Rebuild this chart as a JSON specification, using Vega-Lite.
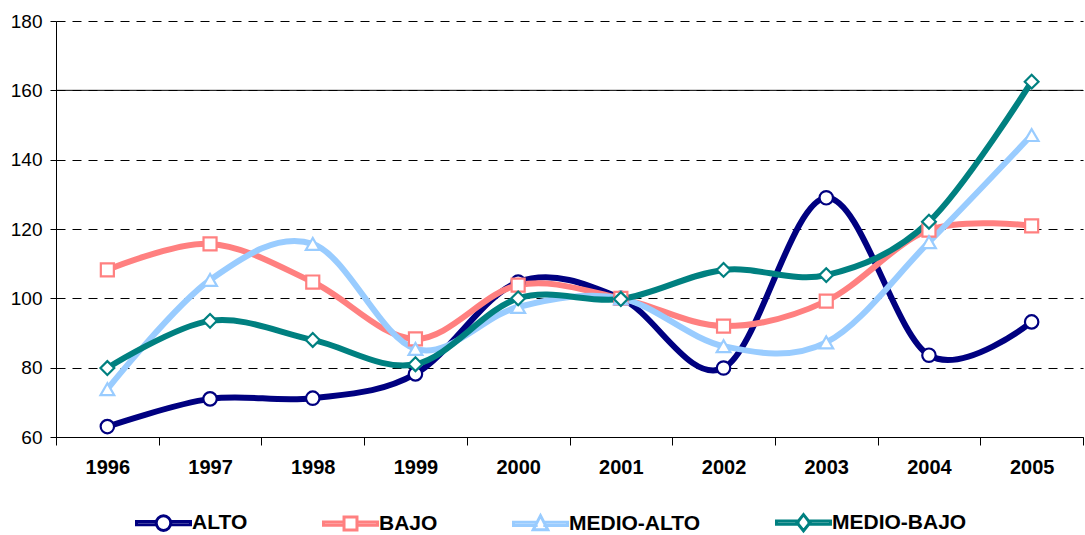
{
  "$schema": "https://vega.github.io/schema/vega-lite/v6.json",
  "width": 1027,
  "height": 416,
  "autosize": "none",
  "padding": {"left": 56, "top": 21, "right": 2, "bottom": 98},
  "background": "white",
  "config": {"view": {"stroke": null}, "font": "Liberation Sans"},
  "data": {"values": [
    {"year": "1996", "series": "ALTO", "value": 63},
    {"year": "1997", "series": "ALTO", "value": 71},
    {"year": "1998", "series": "ALTO", "value": 71.2},
    {"year": "1999", "series": "ALTO", "value": 78.2},
    {"year": "2000", "series": "ALTO", "value": 104.7},
    {"year": "2001", "series": "ALTO", "value": 100},
    {"year": "2002", "series": "ALTO", "value": 79.9},
    {"year": "2003", "series": "ALTO", "value": 129},
    {"year": "2004", "series": "ALTO", "value": 83.6},
    {"year": "2005", "series": "ALTO", "value": 93.2},
    {"year": "1996", "series": "BAJO", "value": 108.2},
    {"year": "1997", "series": "BAJO", "value": 115.7},
    {"year": "1998", "series": "BAJO", "value": 104.7},
    {"year": "1999", "series": "BAJO", "value": 88.3},
    {"year": "2000", "series": "BAJO", "value": 103.8},
    {"year": "2001", "series": "BAJO", "value": 100},
    {"year": "2002", "series": "BAJO", "value": 92},
    {"year": "2003", "series": "BAJO", "value": 99.2},
    {"year": "2004", "series": "BAJO", "value": 119.7},
    {"year": "2005", "series": "BAJO", "value": 120.9},
    {"year": "1996", "series": "MEDIO-ALTO", "value": 73.8},
    {"year": "1997", "series": "MEDIO-ALTO", "value": 105.3},
    {"year": "1998", "series": "MEDIO-ALTO", "value": 115.7},
    {"year": "1999", "series": "MEDIO-ALTO", "value": 85.4},
    {"year": "2000", "series": "MEDIO-ALTO", "value": 97.5},
    {"year": "2001", "series": "MEDIO-ALTO", "value": 100},
    {"year": "2002", "series": "MEDIO-ALTO", "value": 86.2},
    {"year": "2003", "series": "MEDIO-ALTO", "value": 87.3},
    {"year": "2004", "series": "MEDIO-ALTO", "value": 116.2},
    {"year": "2005", "series": "MEDIO-ALTO", "value": 147.1},
    {"year": "1996", "series": "MEDIO-BAJO", "value": 79.9},
    {"year": "1997", "series": "MEDIO-BAJO", "value": 93.5},
    {"year": "1998", "series": "MEDIO-BAJO", "value": 88},
    {"year": "1999", "series": "MEDIO-BAJO", "value": 81},
    {"year": "2000", "series": "MEDIO-BAJO", "value": 100},
    {"year": "2001", "series": "MEDIO-BAJO", "value": 99.8},
    {"year": "2002", "series": "MEDIO-BAJO", "value": 108.2},
    {"year": "2003", "series": "MEDIO-BAJO", "value": 106.7},
    {"year": "2004", "series": "MEDIO-BAJO", "value": 122.1},
    {"year": "2005", "series": "MEDIO-BAJO", "value": 162.5}
  ]},
  "encoding": {
    "y": {
      "field": "value", "type": "quantitative",
      "scale": {"domain": [60, 180], "nice": false, "zero": false},
      "axis": {
        "title": null, "values": [60, 80, 100, 120, 140, 160, 180], "labelFontSize": 19,
        "labelFont": "Liberation Sans", "labelColor": "black", "tickSize": 6, "tickColor": "black",
        "domainColor": "black", "gridColor": "black", "gridDash": [9, 7], "gridOpacity": 1,
        "labelPadding": 8, "grid": true
      }
    }
  },
  "layer": [
    {
      "data": {"values": [{"value": 160}]},
      "mark": {"type": "rule", "color": "black", "strokeWidth": 1},
      "encoding": {}
    },
    {
      "mark": {"type": "line", "interpolate": "cardinal", "strokeWidth": 6},
      "encoding": {
        "x": {
          "field": "year", "type": "ordinal", "bandPosition": 0.5,
          "scale": {"type": "band", "paddingInner": 0, "paddingOuter": 0},
          "axis": {
            "title": null, "labelAngle": 0, "labelFont": "Liberation Sans", "labelFontWeight": "bold",
            "labelFontSize": 20, "labelColor": "black", "tickBand": "extent", "tickSize": 8,
            "tickColor": "black", "domainColor": "black", "labelPadding": 12, "grid": false
          }
        },
        "color": {
          "field": "series", "type": "nominal",
          "scale": {"domain": ["ALTO", "BAJO", "MEDIO-ALTO", "MEDIO-BAJO"], "range": ["#000080", "#FF8080", "#99CCFF", "#008080"]},
          "legend": {
            "title": null, "orient": "none", "legendX": 79, "legendY": 473, "direction": "horizontal",
            "columnPadding": 69, "symbolSize": 2916, "symbolStrokeWidth": 3, "labelFontSize": 21,
            "labelFontWeight": "bold", "labelFont": "Liberation Sans", "labelColor": "black",
            "labelOffset": 0, "padding": 0,
            "encode": {
              "symbols": {
                "update": {
                  "shape": {"signal": "datum.value === 'ALTO' ? 'M-1,-0.06H-0.27V0.06H-1ZM0.27,-0.06H1V0.06H0.27ZM0.27,0A0.27,0.27 0 1,1 -0.27,0A0.27,0.27 0 1,1 0.27,0Z' : datum.value === 'BAJO' ? 'M-1,-0.06H-0.24V0.06H-1ZM0.24,-0.06H1V0.06H0.24ZM-0.24,-0.24H0.24V0.24H-0.24Z' : datum.value === 'MEDIO-ALTO' ? 'M-1,-0.06H-0.16V0.06H-1ZM0.16,-0.06H1V0.06H0.16ZM0,-0.3L0.27,0.22H-0.27Z' : 'M-1,-0.06H-0.2V0.06H-1ZM0.2,-0.06H1V0.06H0.2ZM0,-0.3L0.24,0L0,0.3L-0.24,0Z'"},
                  "fill": {"value": "white"},
                  "fillOpacity": {"value": 1},
                  "strokeWidth": {"value": 3}
                }
              }
            }
          }
        }
      }
    },
    {
      "transform": [{"filter": "datum.series === 'ALTO'"}],
      "mark": {"type": "point", "shape": "circle", "fill": "white", "fillOpacity": 1, "stroke": "#000080", "strokeWidth": 2.2, "size": 180, "opacity": 1},
      "encoding": {
        "x": {"field": "year", "type": "ordinal", "bandPosition": 0.5}
      }
    },
    {
      "transform": [{"filter": "datum.series === 'BAJO'"}],
      "mark": {"type": "point", "shape": "square", "fill": "white", "fillOpacity": 1, "stroke": "#FF8080", "strokeWidth": 2.2, "size": 170, "opacity": 1},
      "encoding": {
        "x": {"field": "year", "type": "ordinal", "bandPosition": 0.5}
      }
    },
    {
      "transform": [{"filter": "datum.series === 'MEDIO-ALTO'"}],
      "mark": {"type": "point", "shape": "triangle-up", "fill": "white", "fillOpacity": 1, "stroke": "#99CCFF", "strokeWidth": 2.2, "size": 190, "opacity": 1},
      "encoding": {
        "x": {"field": "year", "type": "ordinal", "bandPosition": 0.5}
      }
    },
    {
      "transform": [{"filter": "datum.series === 'MEDIO-BAJO'"}],
      "mark": {"type": "point", "shape": "diamond", "fill": "white", "fillOpacity": 1, "stroke": "#008080", "strokeWidth": 2.2, "size": 190, "opacity": 1},
      "encoding": {
        "x": {"field": "year", "type": "ordinal", "bandPosition": 0.5}
      }
    }
  ]
}
